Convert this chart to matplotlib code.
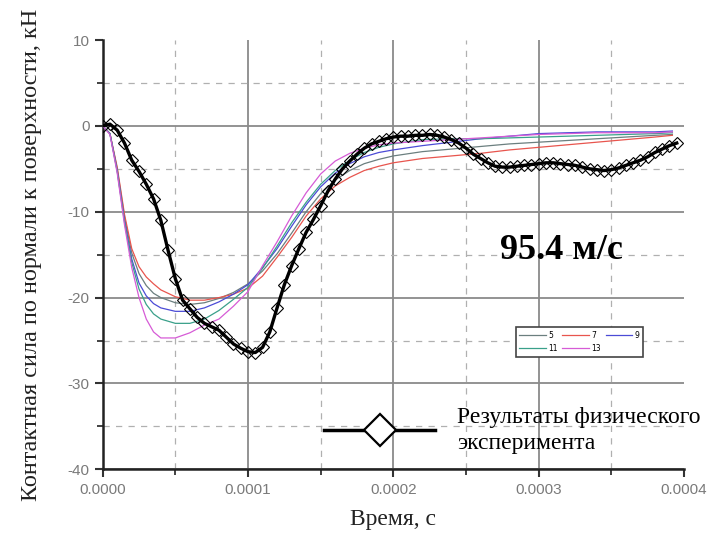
import matplotlib
matplotlib.use("Agg")
import matplotlib.pyplot as plt
from matplotlib.lines import Line2D
from matplotlib.ticker import MultipleLocator, FormatStrFormatter
import numpy as np

plt.rcParams['axes.unicode_minus'] = False

# experiment (time in 1e-5 s, force in kN)
t_exp = [0, 0.5, 1.0, 1.5, 2.0, 2.5, 3.0, 3.5, 4.0, 4.5, 5.0, 5.5, 6.0, 6.5, 7.0, 7.5,
         8.0, 8.5, 9.0, 9.5, 10.0, 10.5, 11.0, 11.5, 12.0, 12.5, 13.0, 13.5, 14.0, 14.5,
         15.0, 15.5, 16.0, 16.5, 17.0, 17.5, 18.0, 18.5, 19.0, 19.5, 20.0, 20.5, 21.0,
         21.5, 22.0, 22.5, 23.0, 23.5, 24.0, 24.5, 25.0, 25.5, 26.0, 26.5, 27.0, 27.5,
         28.0, 28.5, 29.0, 29.5, 30.0, 30.5, 31.0, 31.5, 32.0, 32.5, 33.0, 33.5, 34.0,
         34.5, 35.0, 35.5, 36.0, 36.5, 37.0, 37.5, 38.0, 38.5, 39.0, 39.5]
f_exp = [0.0, 0.2, -0.5, -2.0, -4.0, -5.3, -6.8, -8.5, -11.0, -14.5, -17.8, -20.3,
         -21.3, -22.3, -23.0, -23.4, -23.8, -24.6, -25.4, -25.9, -26.3, -26.4, -25.8,
         -24.0, -21.2, -18.5, -16.3, -14.3, -12.4, -10.9, -9.3, -7.6, -6.2, -5.0, -4.1,
         -3.3, -2.6, -2.1, -1.8, -1.5, -1.3, -1.2, -1.2, -1.1, -1.1, -1.0, -1.1, -1.3,
         -1.6, -2.0, -2.6, -3.3, -3.8, -4.3, -4.7, -4.8, -4.8, -4.7, -4.6, -4.5, -4.4,
         -4.3, -4.3, -4.4, -4.5, -4.6, -4.8, -5.0, -5.1, -5.2, -5.1, -4.9, -4.6, -4.3,
         -4.0, -3.6, -3.1, -2.7, -2.3, -2.0]

# simulation series (time in 1e-5 s)
t_sim = [0, 0.5, 1, 1.5, 2, 2.5, 3, 3.5, 4, 5, 6, 7, 8, 9, 10, 11, 12, 13, 14, 15, 16,
         17, 18, 19, 20, 22, 24, 26, 28, 30, 32, 34, 36, 38, 39.2]
f_5 = [0, -0.9, -5.0, -10.6, -14.8, -17.2, -18.6, -19.5, -20.0, -20.6, -20.8, -20.6,
       -20.1, -19.4, -18.4, -16.9, -14.9, -12.5, -10.0, -7.9, -6.3, -5.2, -4.4, -3.9,
       -3.5, -3.0, -2.7, -2.4, -2.1, -1.9, -1.7, -1.5, -1.3, -1.1, -1.0]
f_7 = [0, -0.9, -4.8, -10.3, -14.3, -16.4, -17.6, -18.4, -19.1, -19.9, -20.3, -20.3,
       -20.0, -19.6, -18.9, -17.5, -15.3, -13.0, -10.5, -8.5, -7.0, -6.0, -5.2, -4.7,
       -4.3, -3.8, -3.5, -3.2, -2.8, -2.5, -2.2, -1.9, -1.6, -1.3, -1.1]
f_9 = [0, -0.9, -5.2, -11.0, -15.5, -18.3, -19.8, -20.7, -21.2, -21.6, -21.6, -21.2,
       -20.5, -19.6, -18.5, -16.5, -14.3, -11.7, -9.2, -7.1, -5.5, -4.4, -3.6, -3.1,
       -2.8, -2.3, -1.9, -1.5, -1.2, -0.9, -0.8, -0.7, -0.7, -0.7, -0.6]
f_11 = [0, -0.9, -5.3, -11.2, -15.9, -19.0, -20.8, -21.9, -22.5, -23.0, -23.0, -22.5,
        -21.5, -20.2, -18.8, -16.6, -14.0, -11.3, -8.9, -6.8, -5.2, -4.0, -3.1, -2.5,
        -2.1, -1.6, -1.5, -1.5, -1.4, -1.3, -1.2, -1.1, -1.0, -0.9, -0.8]
f_13 = [0, -1.0, -5.5, -11.5, -16.5, -20.0, -22.5, -24.0, -24.7, -24.7, -24.1, -23.2,
        -22.5, -21.0, -19.3, -16.3, -13.5, -10.5, -7.8, -5.6, -4.1, -3.2, -2.6, -2.2,
        -2.0, -1.8, -1.6, -1.4, -1.2, -1.0, -0.9, -0.8, -0.8, -0.8, -0.7]

sim_labels = ['5', '7', '9', '11', '13']
sim_colors = ['#6b7f7f', '#e8554e', '#4b4bd6', '#3aa08a', '#d65bd6']

fig = plt.figure(figsize=(7.21, 5.40), dpi=100)
ax = fig.add_axes([0.1424, 0.1309, 0.8063, 0.795])

ts = np.array(t_sim) * 1e-5
handles = []
for vals, lab, col in zip([f_5, f_7, f_9, f_11, f_13], sim_labels, sim_colors):
    h, = ax.plot(ts, vals, color=col, lw=0.9, label=lab, zorder=3)
    handles.append(h)

ax.plot(np.array(t_exp) * 1e-5, f_exp, color='black', lw=2.4, marker='D', ms=6,
        mfc='none', mec='black', mew=0.8, zorder=5)

ax.set_xlim(0, 0.0004)
ax.set_ylim(-40, 10)
ax.xaxis.set_major_locator(MultipleLocator(0.0001))
ax.xaxis.set_minor_locator(MultipleLocator(0.00005))
ax.yaxis.set_major_locator(MultipleLocator(10))
ax.yaxis.set_minor_locator(MultipleLocator(5))
ax.xaxis.set_major_formatter(FormatStrFormatter('%.4f'))

ax.grid(which='major', color='#8a8a8a', lw=1.3, ls='-', zorder=1)
ax.grid(which='minor', color='#b0b0b0', lw=0.9, ls=(0, (5, 5)), zorder=1)
ax.set_axisbelow(True)

fig.canvas.draw()
for tk in ax.yaxis.get_major_ticks():
    if abs(tk.get_loc() - 10) < 1e-6:
        tk.gridline.set_visible(False)
for tk in ax.xaxis.get_major_ticks():
    if abs(tk.get_loc() - 0.0004) < 1e-9:
        tk.gridline.set_visible(False)

for s in ['top', 'right']:
    ax.spines[s].set_visible(False)
for s in ['left', 'bottom']:
    ax.spines[s].set_color('#222222')
    ax.spines[s].set_linewidth(1.8)

ax.tick_params(which='major', direction='out', length=6, width=1.5, color='#333333',
               labelsize=11, labelcolor='#7a7a7a')
ax.tick_params(which='minor', direction='out', length=4, width=1.3, color='#333333')
for lbl in ax.get_xticklabels() + ax.get_yticklabels():
    lbl.set_family('Liberation Sans')

ax.set_xlabel('Время, с', family='Liberation Serif', fontsize=17, color='#222222',
              labelpad=9)
ax.set_ylabel('Контактная сила по нормали к поверхности, кН', family='Liberation Serif',
              fontsize=17.5, color='#222222', labelpad=18)

ax.text(0.79, 0.51, '95.4 м/с', transform=ax.transAxes, family='Liberation Serif',
        fontweight='bold', fontsize=26, ha='center', va='center', zorder=6)

order = [0, 3, 1, 4, 2]
leg1 = ax.legend([handles[i] for i in order], [sim_labels[i] for i in order], ncol=3,
                 loc='center', bbox_to_anchor=(0.82, 0.297), fontsize=5.5,
                 frameon=True, fancybox=False, edgecolor='#444444', framealpha=1,
                 handlelength=3.5, columnspacing=0.6, handletextpad=0.3,
                 borderpad=0.45, labelspacing=0.6)
leg1.get_frame().set_linewidth(1.2)
ax.add_artist(leg1)

exp_proxy = Line2D([], [], color='black', lw=2.5, marker='D', ms=16, mfc='white',
                   mec='black', mew=1.6)
leg2 = ax.legend([exp_proxy], ['Результаты физического\nэксперимента'],
                 loc='center left', bbox_to_anchor=(0.345, 0.09), frameon=False,
                 prop={'family': 'Liberation Serif', 'size': 17}, handlelength=4.7,
                 handletextpad=0.9)
leg2.get_texts()[0].set_linespacing(1.35)

fig.savefig('out.png', dpi=100)
